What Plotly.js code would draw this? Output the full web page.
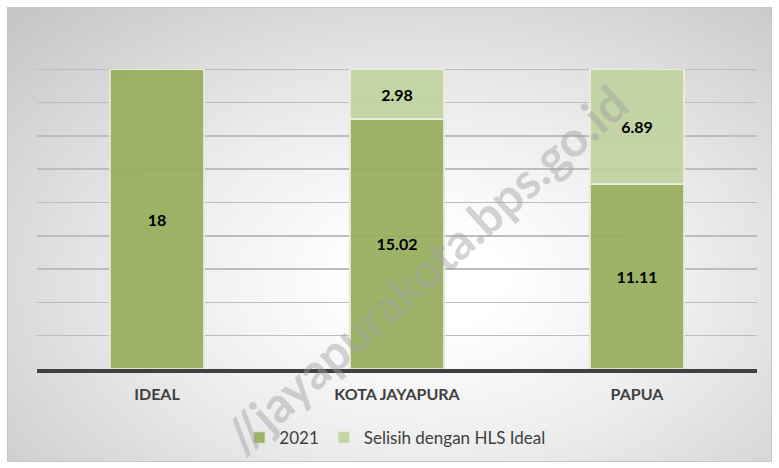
<!DOCTYPE html>
<html>
<head>
<meta charset="utf-8">
<script src="https://cdn.plot.ly/plotly-3.0.1.min.js"></script>
<style>
  html, body { margin: 0; padding: 0; background: #ffffff; }
  #wrap { position: relative; width: 779px; height: 468px; }
  #bg { position: absolute; left: 7px; top: 7px; width: 763px; height: 453px;
        border: 1px solid #c6c6c6;
        background: radial-gradient(ellipse farthest-corner at 55% 60%, #ffffff 12%, #ededed 45%, #c4c4c4 100%); }
  #chart { position: absolute; left: 0; top: 0; width: 779px; height: 468px; }
</style>
</head>
<body>
<div id="wrap">
  <div id="bg"></div>
  <div id="chart"></div>
</div>
<script>
var categories = ["IDEAL", "KOTA JAYAPURA", "PAPUA"];
var values2021 = [18, 15.02, 11.11];
var valuesSelisih = [0, 2.98, 6.89];
var seriesNames = ["2021", "Selisih dengan HLS Ideal"];
var watermark = "//jayapurakota.bps.go.id";

function labels(arr) { return arr.map(function (v) { return v > 0 ? String(v) : ""; }); }

var labelFont = { family: "Lato, 'Open Sans', sans-serif", size: 16, color: "#000000", weight: "bold" };

var traces = [
  {
    type: "bar", name: seriesNames[0], x: categories, y: values2021,
    text: labels(values2021), textposition: "inside", insidetextanchor: "middle",
    textfont: labelFont, constraintext: "none",
    marker: { color: "rgba(150,174,92,0.93)", line: { color: "rgba(225,235,210,0.9)", width: 1.5 } },
    hoverinfo: "skip"
  },
  {
    type: "bar", name: seriesNames[1], x: categories, y: valuesSelisih,
    text: labels(valuesSelisih), textposition: "inside", insidetextanchor: "middle",
    textfont: labelFont, constraintext: "none",
    marker: { color: "rgba(192,210,160,0.93)", line: { color: "rgba(232,240,220,0.9)", width: 1.5 } },
    hoverinfo: "skip"
  }
];

var layout = {
  width: 779, height: 468,
  margin: { l: 37, r: 22, t: 36, b: 99, pad: 0 },
  paper_bgcolor: "rgba(0,0,0,0)",
  plot_bgcolor: "rgba(0,0,0,0)",
  barmode: "stack",
  bargap: 0.61,
  showlegend: true,
  font: { family: "Lato, 'Open Sans', sans-serif", color: "#404040" },
  xaxis: {
    type: "category",
    showline: true, linecolor: "#404040", linewidth: 3.5,
    ticks: "", showgrid: false, zeroline: false,
    tickfont: { family: "Lato, 'Open Sans', sans-serif", size: 16, color: "#404040", weight: "bold" },
    ticklabelstandoff: 8,
    fixedrange: true
  },
  yaxis: {
    range: [0, 20], dtick: 2, tick0: 0,
    showticklabels: false, ticks: "",
    showgrid: true, gridcolor: "#bdbdbd", gridwidth: 1.5,
    zeroline: false, showline: false, fixedrange: true
  },
  legend: {
    orientation: "h", traceorder: "normal",
    x: 0.497, xanchor: "center", y: -0.207, yanchor: "middle",
    font: { family: "Lato, 'Open Sans', sans-serif", size: 17, color: "#404040" },
    bgcolor: "rgba(0,0,0,0)", itemwidth: 30, tracegroupgap: 0
  },
  annotations: [
    {
      xref: "paper", yref: "paper", x: 0.539, y: 0.30,
      xanchor: "center", yanchor: "middle",
      text: "<b>" + watermark + "</b>", showarrow: false, textangle: -42,
      font: { family: "Lato, 'Open Sans', sans-serif", size: 49, color: "rgba(160,160,160,0.45)", weight: "bold" }
    }
  ]
};

Plotly.newPlot("chart", traces, layout, { displayModeBar: false, staticPlot: true });
</script>
</body>
</html>
